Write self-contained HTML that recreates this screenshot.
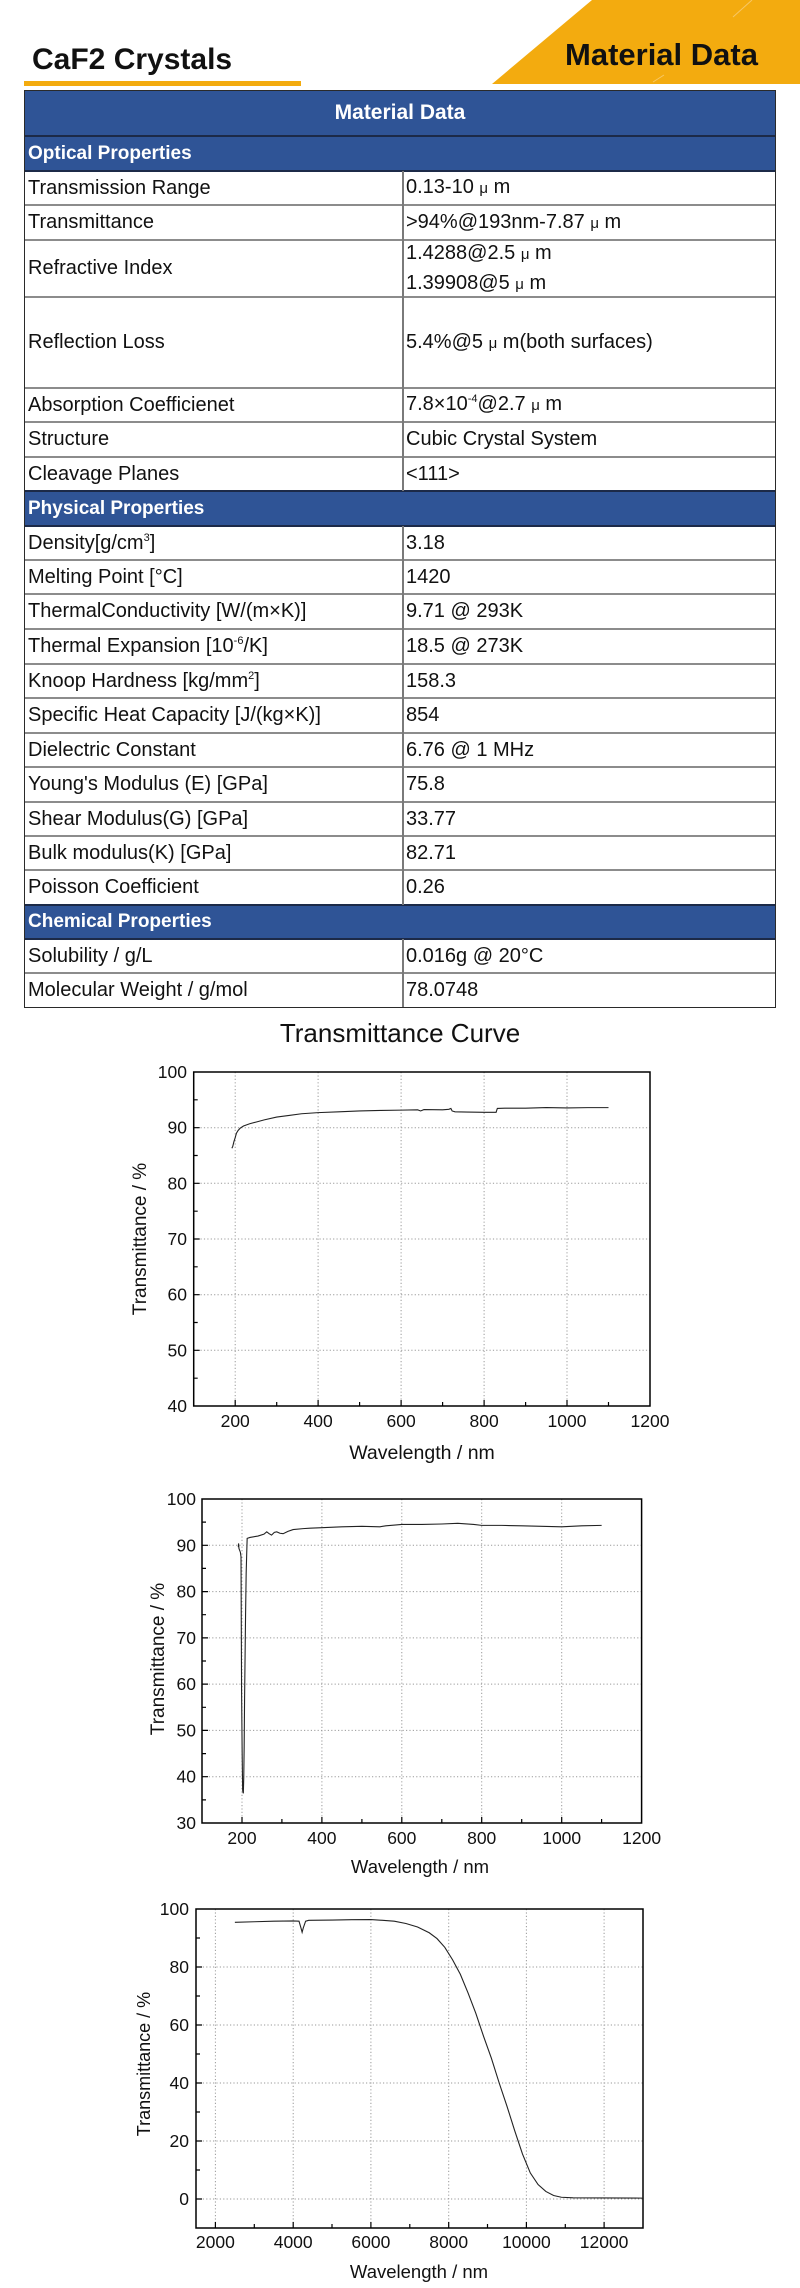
<!DOCTYPE html>
<html><head><meta charset="utf-8"><style>
html,body{margin:0;padding:0;background:#fff}
body{width:800px;height:2288px;position:relative;overflow:hidden;font-family:"Liberation Sans",Arial,sans-serif;color:#111}
.a{position:absolute}
.row{position:absolute;left:24px;width:752px}
.c1,.c2{position:absolute;top:0;height:100%;display:flex;align-items:center;font-size:20px;white-space:nowrap;line-height:29px}
.c1{left:4px}.c2{left:382px}
.sec{position:absolute;left:24px;width:752px;background:#2F5496;color:#fff;font-weight:bold;font-size:19px;display:flex;align-items:center}
.hl{position:absolute;left:24px;width:752px;height:1.5px;background:#8c8c8c}
.vl{position:absolute;left:402px;width:1.5px;background:#7a7a7a}
sup{font-size:11px;line-height:0;position:relative;top:-8px;vertical-align:baseline}
.mu{font-size:15px}
</style></head><body>

<!-- top banner -->
<svg class="a" style="left:0;top:0" width="800" height="90">
<polygon points="592,0 800,0 800,84 492,84" fill="#F3AB0F"/>
<line x1="733" y1="17" x2="752" y2="0" stroke="#f7c766" stroke-width="1"/>
<line x1="653" y1="82" x2="664" y2="75" stroke="#f7c766" stroke-width="1"/>
<text x="565" y="65" font-family="Liberation Sans, Arial, sans-serif" font-weight="bold" font-size="31" fill="#111">Material Data</text>
<text x="32" y="69" font-family="Liberation Sans, Arial, sans-serif" font-weight="bold" font-size="30" fill="#111">CaF2 Crystals</text>
<rect x="24" y="81" width="277" height="5" fill="#F3AB0F"/>
</svg>

<!-- table -->
<div class="sec" style="top:90px;height:46px;justify-content:center;font-size:21px">Material Data</div>
<div class="sec" style="top:136px;height:35px;padding-left:4px;box-sizing:border-box">Optical Properties</div>
<div class="sec" style="top:491px;height:35px;padding-left:4px;box-sizing:border-box">Physical Properties</div>
<div class="sec" style="top:905px;height:34px;padding-left:4px;box-sizing:border-box">Chemical Properties</div>

<div class="row" style="top:171px;height:34px"><div class="c1"><span>Transmission Range</span></div><div class="c2"><span>0.13-10&nbsp;<span class="mu">μ</span>&nbsp;m</span></div></div>
<div class="row" style="top:205px;height:35px"><div class="c1"><span>Transmittance</span></div><div class="c2"><span>&gt;94%@193nm-7.87&nbsp;<span class="mu">μ</span>&nbsp;m</span></div></div>
<div class="row" style="top:240px;height:57px"><div class="c1"><span>Refractive Index</span></div><div class="c2"><div>1.4288@2.5&nbsp;<span class="mu">μ</span>&nbsp;m<br>1.39908@5&nbsp;<span class="mu">μ</span>&nbsp;m</div></div></div>
<div class="row" style="top:297px;height:91px"><div class="c1"><span>Reflection Loss</span></div><div class="c2"><span>5.4%@5&nbsp;<span class="mu">μ</span>&nbsp;m(both surfaces)</span></div></div>
<div class="row" style="top:388px;height:34px"><div class="c1"><span>Absorption Coefficienet</span></div><div class="c2"><span>7.8×10<sup>-4</sup>@2.7&nbsp;<span class="mu">μ</span>&nbsp;m</span></div></div>
<div class="row" style="top:422px;height:35px"><div class="c1"><span>Structure</span></div><div class="c2"><span>Cubic Crystal System</span></div></div>
<div class="row" style="top:457px;height:34px"><div class="c1"><span>Cleavage Planes</span></div><div class="c2"><span>&lt;111&gt;</span></div></div>

<div class="row" style="top:526px;height:34px"><div class="c1"><span>Density[g/cm<sup>3</sup>]</span></div><div class="c2"><span>3.18</span></div></div>
<div class="row" style="top:560px;height:34px"><div class="c1"><span>Melting Point [°C]</span></div><div class="c2"><span>1420</span></div></div>
<div class="row" style="top:594px;height:35px"><div class="c1"><span>ThermalConductivity [W/(m×K)]</span></div><div class="c2"><span>9.71 @ 293K</span></div></div>
<div class="row" style="top:629px;height:35px"><div class="c1"><span>Thermal Expansion [10<sup>-6</sup>/K]</span></div><div class="c2"><span>18.5 @ 273K</span></div></div>
<div class="row" style="top:664px;height:34px"><div class="c1"><span>Knoop Hardness [kg/mm<sup>2</sup>]</span></div><div class="c2"><span>158.3</span></div></div>
<div class="row" style="top:698px;height:35px"><div class="c1"><span>Specific Heat Capacity [J/(kg×K)]</span></div><div class="c2"><span>854</span></div></div>
<div class="row" style="top:733px;height:34px"><div class="c1"><span>Dielectric Constant</span></div><div class="c2"><span>6.76 @ 1 MHz</span></div></div>
<div class="row" style="top:767px;height:35px"><div class="c1"><span>Young's Modulus (E) [GPa]</span></div><div class="c2"><span>75.8</span></div></div>
<div class="row" style="top:802px;height:34px"><div class="c1"><span>Shear Modulus(G) [GPa]</span></div><div class="c2"><span>33.77</span></div></div>
<div class="row" style="top:836px;height:34px"><div class="c1"><span>Bulk modulus(K) [GPa]</span></div><div class="c2"><span>82.71</span></div></div>
<div class="row" style="top:870px;height:35px"><div class="c1"><span>Poisson Coefficient</span></div><div class="c2"><span>0.26</span></div></div>

<div class="row" style="top:939px;height:34px"><div class="c1"><span>Solubility / g/L</span></div><div class="c2"><span>0.016g @ 20°C</span></div></div>
<div class="row" style="top:973px;height:35px"><div class="c1"><span>Molecular Weight / g/mol</span></div><div class="c2"><span>78.0748</span></div></div>

<!-- row separators -->
<div class="hl" style="top:204px"></div>
<div class="hl" style="top:239px"></div>
<div class="hl" style="top:296px"></div>
<div class="hl" style="top:387px"></div>
<div class="hl" style="top:421px"></div>
<div class="hl" style="top:456px"></div>
<div class="hl" style="top:559px"></div>
<div class="hl" style="top:593px"></div>
<div class="hl" style="top:628px"></div>
<div class="hl" style="top:663px"></div>
<div class="hl" style="top:697px"></div>
<div class="hl" style="top:732px"></div>
<div class="hl" style="top:766px"></div>
<div class="hl" style="top:801px"></div>
<div class="hl" style="top:835px"></div>
<div class="hl" style="top:869px"></div>
<div class="hl" style="top:972px"></div>
<!-- dark header separators -->
<div class="hl" style="top:135px;background:#1c2a48"></div>
<div class="hl" style="top:170px;background:#1c2a48"></div>
<div class="hl" style="top:490px;background:#1c2a48"></div>
<div class="hl" style="top:525px;background:#1c2a48"></div>
<div class="hl" style="top:904px;background:#1c2a48"></div>
<div class="hl" style="top:938px;background:#1c2a48"></div>
<!-- column divider -->
<div class="vl" style="top:171px;height:320px"></div>
<div class="vl" style="top:526px;height:379px"></div>
<div class="vl" style="top:939px;height:69px"></div>
<!-- outer border -->
<div class="a" style="left:24px;top:90px;width:752px;height:918px;border:1px solid #2a2a2a;box-sizing:border-box"></div>

<!-- charts -->
<svg class="a" style="left:0;top:0" width="800" height="2288" font-family="Liberation Sans, Arial, sans-serif">
<text x="400" y="1042" text-anchor="middle" font-size="26" fill="#111">Transmittance Curve</text>

<!-- Chart 1 -->
<g stroke="#9a9a9a" stroke-width="1" stroke-dasharray="1.2 2.2" fill="none">
<path d="M235.2 1072V1406M318.1 1072V1406M401.1 1072V1406M484.1 1072V1406M567 1072V1406"/>
<path d="M193.7 1127.7H650M193.7 1183.3H650M193.7 1239H650M193.7 1294.7H650M193.7 1350.3H650"/>
</g>
<g stroke="#000" stroke-width="1.2" fill="none">
<path d="M235.2 1406v-6M318.1 1406v-6M401.1 1406v-6M484.1 1406v-6M567 1406v-6"/>
<path d="M276.7 1406v-4M359.6 1406v-4M442.6 1406v-4M525.6 1406v-4M608.5 1406v-4"/>
<path d="M193.7 1127.7h6M193.7 1183.3h6M193.7 1239h6M193.7 1294.7h6M193.7 1350.3h6"/>
<path d="M193.7 1099.8h4M193.7 1155.5h4M193.7 1211.2h4M193.7 1266.8h4M193.7 1322.5h4M193.7 1378.2h4"/>
</g>
<rect x="193.7" y="1072" width="456.3" height="334" fill="none" stroke="#000" stroke-width="1.5"/>
<path transform="matrix(0.41482,0,0,-5.5667,152.22,1628.67)" vector-effect="non-scaling-stroke" fill="none" stroke="#222" stroke-width="1.1"
d="M192 86.3L194 86.6L197 87.5L200 88.2L203 89L207 89.5L212 89.9L220 90.3L235 90.7L250 91L270 91.4L300 91.9L330 92.2L360 92.5L400 92.7L450 92.85L500 93L550 93.1L600 93.15L640 93.2L647 93.0L655 93.25L700 93.2L715 93.3L720 93.45L723 93.0L730 92.85L760 92.8L800 92.75L829 92.75L830 93.0L832 93.45L850 93.5L900 93.5L950 93.62L1000 93.55L1050 93.6L1100 93.6"/>
<g font-size="17.5" fill="#111" text-anchor="end">
<text x="187" y="1078">100</text><text x="187" y="1133.7">90</text><text x="187" y="1189.3">80</text><text x="187" y="1245">70</text><text x="187" y="1300.7">60</text><text x="187" y="1356.3">50</text><text x="187" y="1412">40</text>
</g>
<g font-size="17.5" fill="#111" text-anchor="middle">
<text x="235.2" y="1427">200</text><text x="318.1" y="1427">400</text><text x="401.1" y="1427">600</text><text x="484.1" y="1427">800</text><text x="567" y="1427">1000</text><text x="650" y="1427">1200</text>
</g>
<text x="422" y="1459" text-anchor="middle" font-size="19.5" fill="#111">Wavelength / nm</text>
<text transform="translate(146,1239) rotate(-90)" text-anchor="middle" font-size="19" fill="#111">Transmittance / %</text>

<!-- Chart 2 -->
<g stroke="#9a9a9a" stroke-width="1" stroke-dasharray="1.2 2.2" fill="none">
<path d="M242 1499V1823M321.9 1499V1823M401.8 1499V1823M481.7 1499V1823M561.7 1499V1823"/>
<path d="M202 1545.3H641.6M202 1591.6H641.6M202 1637.9H641.6M202 1684.1H641.6M202 1730.4H641.6M202 1776.7H641.6"/>
</g>
<g stroke="#000" stroke-width="1.2" fill="none">
<path d="M242 1823v-6M321.9 1823v-6M401.8 1823v-6M481.7 1823v-6M561.7 1823v-6"/>
<path d="M281.9 1823v-4M361.9 1823v-4M441.8 1823v-4M521.7 1823v-4M601.6 1823v-4"/>
<path d="M202 1545.3h6M202 1591.6h6M202 1637.9h6M202 1684.1h6M202 1730.4h6M202 1776.7h6"/>
<path d="M202 1522.1h4M202 1568.4h4M202 1614.7h4M202 1661h4M202 1707.3h4M202 1753.6h4M202 1799.9h4"/>
</g>
<rect x="202" y="1499" width="439.6" height="324" fill="none" stroke="#000" stroke-width="1.5"/>
<path transform="matrix(0.39964,0,0,-4.6286,162.04,1961.86)" vector-effect="non-scaling-stroke" fill="none" stroke="#222" stroke-width="1.1"
d="M190.8 89.6L191.5 90.4L192.5 89.3L196 88.5L197.6 87.5L198.3 73L199 58.7L200.5 45L201.7 37.1L203.4 36.4L204.5 40L205.5 46.5L206.5 56.6L209 75L210.5 83.9L211.8 88L213 91.5L220 91.7L240 92L255 92.4L262 92.9L268 92.5L274 92.2L281 92.8L287 92.9L295 92.6L303 92.5L315 93.0L328 93.4L353 93.6L370 93.7L400 93.8L450 94.0L500 94.1L545 94.0L560 94.2L600 94.5L650 94.5L700 94.6L740 94.75L780 94.5L800 94.3L850 94.3L900 94.2L950 94.1L1000 94L1050 94.2L1100 94.3"/>
<g font-size="17.5" fill="#111" text-anchor="end">
<text x="196" y="1505">100</text><text x="196" y="1551.3">90</text><text x="196" y="1597.6">80</text><text x="196" y="1643.9">70</text><text x="196" y="1690.1">60</text><text x="196" y="1736.4">50</text><text x="196" y="1782.7">40</text><text x="196" y="1829">30</text>
</g>
<g font-size="17.5" fill="#111" text-anchor="middle">
<text x="242" y="1844">200</text><text x="321.9" y="1844">400</text><text x="401.8" y="1844">600</text><text x="481.7" y="1844">800</text><text x="561.7" y="1844">1000</text><text x="641.6" y="1844">1200</text>
</g>
<text x="420" y="1873" text-anchor="middle" font-size="18.5" fill="#111">Wavelength / nm</text>
<text transform="translate(164,1659) rotate(-90)" text-anchor="middle" font-size="19" fill="#111">Transmittance / %</text>

<!-- Chart 3 -->
<g stroke="#9a9a9a" stroke-width="1" stroke-dasharray="1.2 2.2" fill="none">
<path d="M215.4 1909V2228M293.2 1909V2228M370.9 1909V2228M448.7 1909V2228M526.4 1909V2228M604.1 1909V2228"/>
<path d="M196 1967H643M196 2025H643M196 2083H643M196 2141H643M196 2199H643"/>
</g>
<g stroke="#000" stroke-width="1.2" fill="none">
<path d="M215.4 2228v-6M293.2 2228v-6M370.9 2228v-6M448.7 2228v-6M526.4 2228v-6M604.1 2228v-6"/>
<path d="M254.3 2228v-4M332 2228v-4M409.8 2228v-4M487.5 2228v-4M565.3 2228v-4"/>
<path d="M196 1967h6M196 2025h6M196 2083h6M196 2141h6M196 2199h6"/>
<path d="M196 1938h4M196 1996h4M196 2054h4M196 2112h4M196 2170h4"/>
</g>
<rect x="196" y="1909" width="447" height="319" fill="none" stroke="#000" stroke-width="1.5"/>
<path transform="matrix(0.03887,0,0,-2.9,137.7,2199)" vector-effect="non-scaling-stroke" fill="none" stroke="#222" stroke-width="1.1"
d="M2500 95.4L3000 95.6L3500 95.8L4000 95.9L4150 95.8L4200 93.5L4230 92L4260 93.5L4320 95.8L4400 96.1L5000 96.2L5500 96.3L6000 96.35L6300 96.1L6600 95.8L6900 95L7200 93.8L7500 91.8L7700 89.8L7900 86.8L8100 82.5L8300 77.5L8500 71L8700 64L8900 56L9100 48.5L9300 40L9500 32L9700 23.5L9900 15.5L10100 9L10300 5L10500 2.6L10700 1.2L10900 0.6L11200 0.4L12000 0.35L13000 0.3"/>
<g font-size="17.5" fill="#111" text-anchor="end">
<text x="189" y="1915">100</text><text x="189" y="1973">80</text><text x="189" y="2031">60</text><text x="189" y="2089">40</text><text x="189" y="2147">20</text><text x="189" y="2205">0</text>
</g>
<g font-size="17.5" fill="#111" text-anchor="middle">
<text x="215.4" y="2248">2000</text><text x="293.2" y="2248">4000</text><text x="370.9" y="2248">6000</text><text x="448.7" y="2248">8000</text><text x="526.4" y="2248">10000</text><text x="604.1" y="2248">12000</text>
</g>
<text x="419" y="2278" text-anchor="middle" font-size="18.5" fill="#111">Wavelength / nm</text>
<text transform="translate(150,2064) rotate(-90)" text-anchor="middle" font-size="18" fill="#111">Transmittance / %</text>
</svg>
</body></html>
